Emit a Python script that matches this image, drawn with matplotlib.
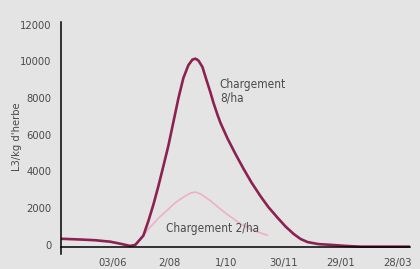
import matplotlib
matplotlib.use("Agg")
import matplotlib.pyplot as plt

# ------------------------------------------------
# Data (days relative to 03/06)
# ------------------------------------------------

x_ticks = [0, 60, 120, 180, 240, 300]
x_labels = ["03/06", "2/08", "1/10", "30/11", "29/01", "28/03"]
y_ticks = [0, 2000, 4000, 6000, 8000, 10000, 12000]

days_8ha = [-53.7, -33.7, -17.9, -2.1, 8.4, 18.9, 24.2, 32.6, 37.9, 43.2,
            48.4, 53.7, 58.9, 64.2, 69.5, 74.7, 80.0, 84.2, 87.4, 90.5, 94.7,
            98.9, 103.2, 106.3, 110.5, 113.7, 121.1, 129.5, 137.9, 146.3,
            155.8, 164.2, 173.7, 182.1, 190.5, 197.9, 205.3, 216.8, 229.5,
            245.3, 261.1, 313.7]
vals_8ha = [330, 290, 250, 170, 60, -60, 0, 500, 1300, 2200,
            3200, 4300, 5400, 6700, 8000, 9100, 9800, 10100, 10150, 10050, 9700,
            9000, 8300, 7750, 7100, 6650, 5800, 4950, 4150, 3400,
            2650, 2050, 1480, 1000, 600, 320, 150, 40, 0,
            -60, -100, -100]

days_2ha = [24.2, 31.6, 40.0, 48.4, 57.9, 66.3, 74.7, 82.1, 87.4, 92.6,
            103.2, 113.7, 121.1, 134.7, 145.3, 152.6, 163.2]
vals_2ha = [30, 450, 980, 1450, 1900, 2300, 2600, 2820, 2880, 2780,
            2400, 1950, 1650, 1150, 850, 700, 520]

bg = "#e4e4e4"
dark = "#8b2252"
pink = "#eeb0c6"
txt = "#4a4a4a"

plt.rcParams["font.family"] = ["DejaVu Sans"]
plt.rcParams["font.stretch"] = "condensed"

fig = plt.figure(figsize=(4.2, 2.69), dpi=100, facecolor=bg)
ax = fig.add_axes([61 / 420, 1 - 254 / 269, (410 - 61) / 420, (254 - 22) / 269])
ax.set_facecolor(bg)

ax.plot(days_2ha, vals_2ha, color=pink, lw=1.2, solid_capstyle="round")
ax.plot(days_8ha, vals_8ha, color=dark, lw=1.9, solid_capstyle="round",
        solid_joinstyle="round")

ax.set_xlim(-54, 313)
ax.set_ylim(-500, 12150)

for s in ["top", "right"]:
    ax.spines[s].set_visible(False)
ax.spines["bottom"].set_position(("data", -109))
ax.spines["left"].set_linewidth(1.1)
ax.spines["bottom"].set_linewidth(1.1)

ax.set_xticks(x_ticks)
ax.set_xticklabels(x_labels)
ax.set_yticks(y_ticks)
ax.tick_params(length=0, labelsize=8, colors=txt)
ax.tick_params(axis="x", pad=8)
ax.tick_params(axis="y", pad=7)

ax.text(113, 9100, "Chargement\n8/ha", fontsize=8.5, color=txt,
        va="top", ha="left", linespacing=1.1)
ax.text(56, 870, "Chargement 2/ha", fontsize=8.5, color=txt,
        va="center", ha="left")

fig.text(17 / 420, 1 - 137 / 269, "L3/kg d'herbe", rotation=90,
         fontsize=8, color=txt, ha="center", va="center")

fig.savefig("out.png", dpi=100, facecolor=bg)
